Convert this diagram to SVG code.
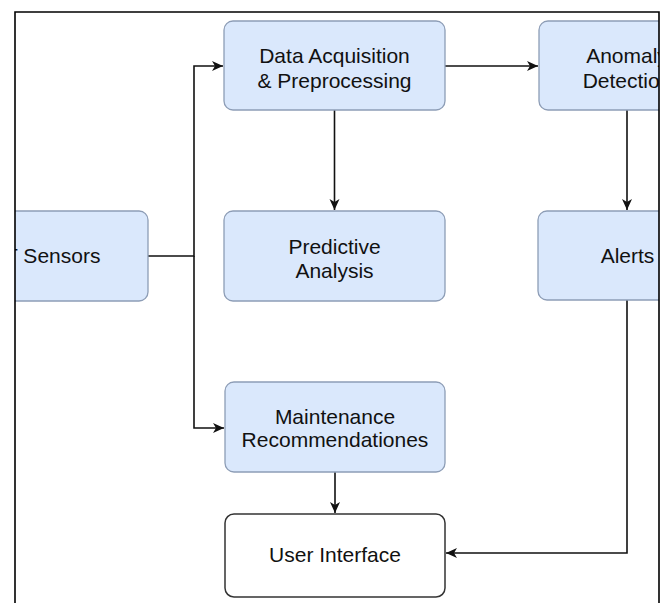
<svg xmlns="http://www.w3.org/2000/svg" width="665" height="603" viewBox="0 0 665 603">
  <style>
    .node { fill: #dae8fc; stroke: #8d9db6; stroke-width: 1.3; }
    .ui { fill: #ffffff; stroke: #333333; stroke-width: 1.5; }
    .lbl { font-family: "Liberation Sans", Arial, sans-serif; font-size: 21px; fill: #111111; text-anchor: middle; }
    .edge { fill: none; stroke: #111111; stroke-width: 1.6; }
    .frame { fill: none; stroke: #000000; stroke-width: 1.6; }
  </style>
  <defs>
    <marker id="arr" markerUnits="userSpaceOnUse" markerWidth="13" markerHeight="11" refX="11" refY="5" orient="auto">
      <path d="M0,0 L11,5 L0,10 L3,5 z" fill="#111111"/>
    </marker>
    <clipPath id="clip">
      <rect x="15" y="12" width="644" height="600"/>
    </clipPath>
  </defs>
  <rect x="0" y="0" width="665" height="603" fill="#ffffff"/>
  <g clip-path="url(#clip)">
    <g id="connectors">
      <path class="edge" d="M148,256 H194 V66 H223" marker-end="url(#arr)"/>
      <path class="edge" d="M194,256 V428 H224" marker-end="url(#arr)"/>
      <path class="edge" d="M445,66 H538" marker-end="url(#arr)"/>
      <path class="edge" d="M334.5,110 V210" marker-end="url(#arr)"/>
      <path class="edge" d="M627,110 V210" marker-end="url(#arr)"/>
      <path class="edge" d="M627,300 V553 H446" marker-end="url(#arr)"/>
      <path class="edge" d="M335,472 V513" marker-end="url(#arr)"/>
    </g>
    <g id="iot-sensors">
      <rect class="node" x="-73" y="211" width="221" height="90" rx="9"/>
      <text class="lbl" x="44" y="263">IoT Sensors</text>
    </g>
    <g id="data-acquisition">
      <rect class="node" x="224" y="21" width="221" height="89" rx="9"/>
      <text class="lbl" x="334.5" y="63">Data Acquisition</text>
      <text class="lbl" x="334.5" y="88">&amp; Preprocessing</text>
    </g>
    <g id="anomaly-detection">
      <rect class="node" x="539" y="21" width="221" height="89" rx="9"/>
      <text class="lbl" x="627" y="63">Anomaly</text>
      <text class="lbl" x="627" y="88">Detection</text>
    </g>
    <g id="predictive-analysis">
      <rect class="node" x="224" y="211" width="221" height="90" rx="9"/>
      <text class="lbl" x="334.5" y="254">Predictive</text>
      <text class="lbl" x="334.5" y="278">Analysis</text>
    </g>
    <g id="alerts">
      <rect class="node" x="538" y="211" width="221" height="89" rx="9"/>
      <text class="lbl" x="627.5" y="263">Alerts</text>
    </g>
    <g id="maintenance">
      <rect class="node" x="225" y="382" width="220" height="90" rx="9"/>
      <text class="lbl" x="335" y="424">Maintenance</text>
      <text class="lbl" x="335" y="447">Recommendationes</text>
    </g>
    <g id="user-interface">
      <rect class="ui" x="225" y="514" width="220" height="83" rx="9"/>
      <text class="lbl" x="335" y="562">User Interface</text>
    </g>
  </g>
  <path class="frame" d="M15,610 V12 H659 V610"/>
</svg>
